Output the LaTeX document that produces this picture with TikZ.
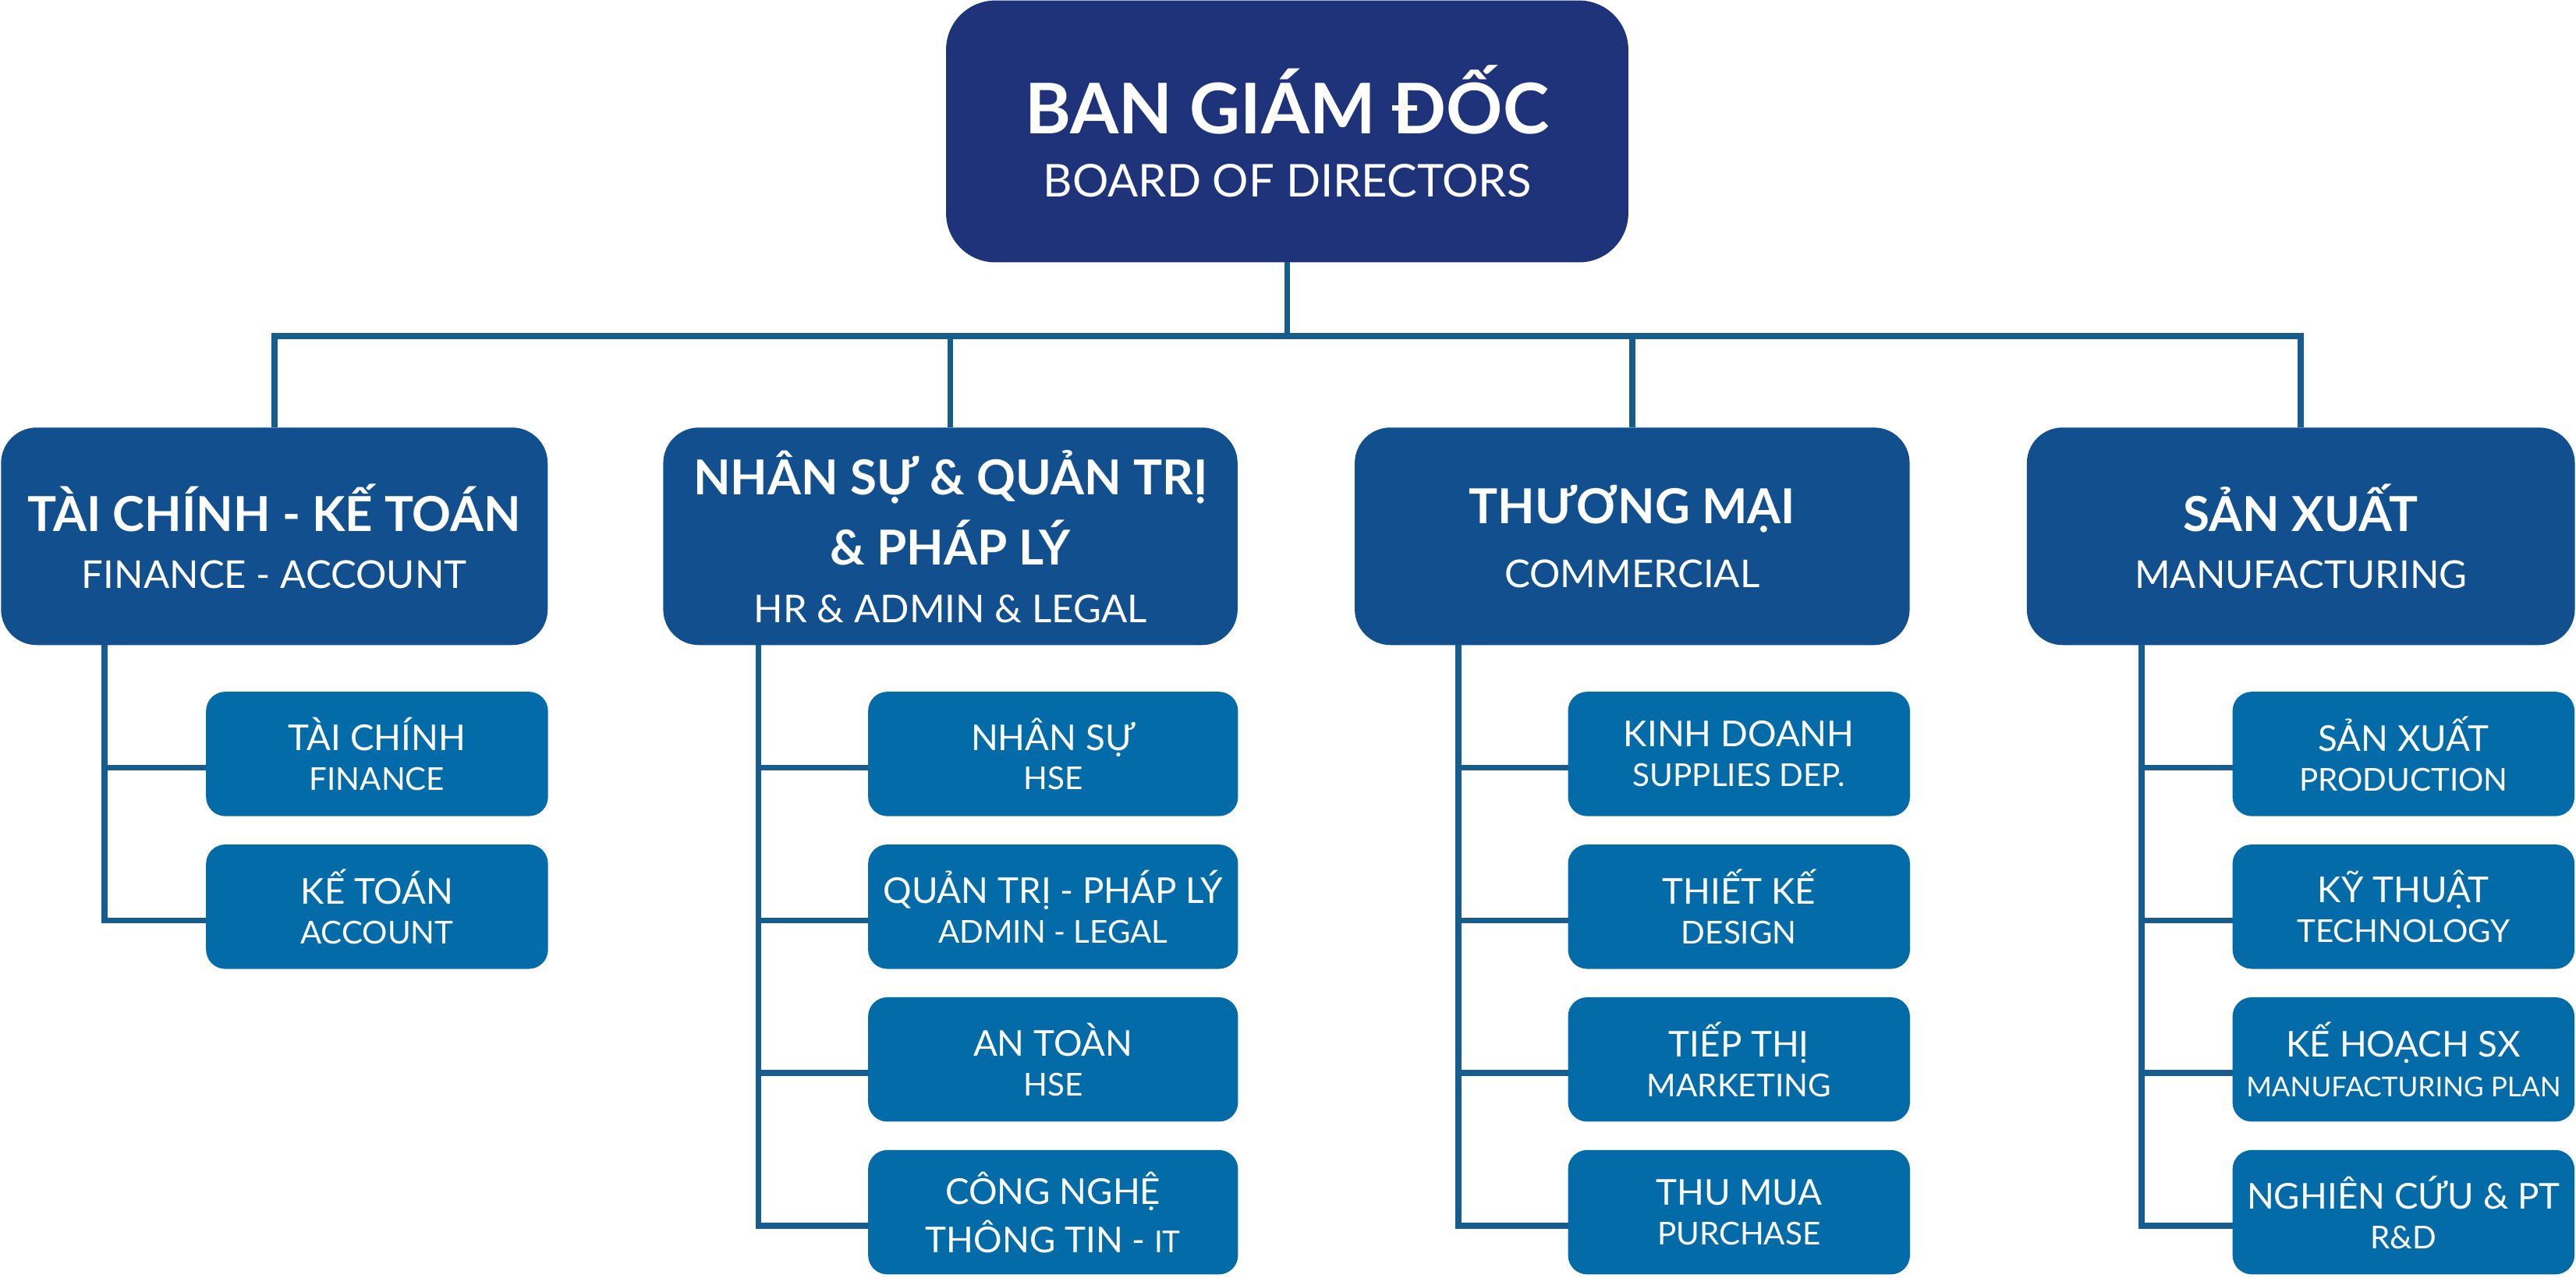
\documentclass[tikz,border=0pt]{standalone}
\usepackage{fontspec}
\setmainfont{Lato}
\usetikzlibrary{positioning}
\definecolor{bodblue}{RGB}{30,51,122}
\definecolor{deptblue}{RGB}{18,79,143}
\definecolor{unitblue}{RGB}{3,108,168}
\definecolor{lineblue}{RGB}{22,92,140}
\newcommand{\bodtext}[2]{\fontsize{25.5}{28}\selectfont\bfseries #1\\[10pt]\fontsize{16.5}{20}\selectfont\mdseries #2}
\newcommand{\depttext}[2]{\fontsize{17.6}{21}\selectfont\bfseries #1\\[9pt]\fontsize{14}{21}\selectfont\mdseries #2}
\newcommand{\unittext}[2]{\fontsize{13}{15}\selectfont #1\\[2.5pt]\fontsize{11.5}{14.3}\selectfont #2}
\tikzset{
  bodbox/.style={fill=bodblue, text=white, rounded corners=18pt, minimum width=249pt, minimum height=95.6pt, align=center, inner sep=0pt, outer sep=0pt},
  deptbox/.style={fill=deptblue, text=white, rounded corners=13pt, minimum height=79.4pt, align=center, inner sep=0pt, outer sep=0pt},
  unitbox/.style={fill=unitblue, text=white, rounded corners=7pt, minimum width=124.8pt, minimum height=45.4pt, align=center, inner sep=0pt, outer sep=0pt},
  conn/.style={draw=lineblue, line width=2.2pt},
}

\begin{document}
\begin{tikzpicture}[x=0.021065cm, y=-0.021065cm]
  \useasboundingbox (0,0) rectangle (1568,778);
  \node[bodbox] (bod) at (783.5,80) {\bodtext{BAN GIÁM ĐỐC}{BOARD OF DIRECTORS}};

  \node[deptbox, minimum width=199.5pt] (fin) at (167,326.5) {\depttext{TÀI CHÍNH - KẾ TOÁN}{FINANCE - ACCOUNT}};
  \node[deptbox, minimum width=209.6pt] (hr) at (578.5,326.5) {\depttext{NHÂN SỰ \& QUẢN TRỊ\\[5pt]\fontsize{17.6}{21}\selectfont\bfseries \& PHÁP LÝ}{HR \& ADMIN \& LEGAL}};
  \node[deptbox, minimum width=202.5pt] (tm) at (993.5,326.5) {\depttext{THƯƠNG MẠI}{COMMERCIAL}};
  \node[deptbox, minimum width=200pt] (sx) at (1400.5,326.5) {\depttext{SẢN XUẤT}{MANUFACTURING}};

  \node[unitbox] (fin1) at (229.5,459) {\unittext{TÀI CHÍNH}{FINANCE}};
  \node[unitbox] (fin2) at (229.5,552) {\unittext{KẾ TOÁN}{ACCOUNT}};

  \node[unitbox, minimum width=135pt] (hr1) at (641,459) {\unittext{NHÂN SỰ}{HSE}};
  \node[unitbox, minimum width=135pt] (hr2) at (641,552) {\unittext{QUẢN TRỊ - PHÁP LÝ}{ADMIN - LEGAL}};
  \node[unitbox, minimum width=135pt] (hr3) at (641,645) {\unittext{AN TOÀN}{HSE}};
  \node[unitbox, minimum width=135pt] (hr4) at (641,738) {\unittext{CÔNG NGHỆ}{\fontsize{13}{14.3}\selectfont THÔNG TIN - {\fontsize{11}{13}\selectfont IT}}};

  \node[unitbox] (tm1) at (1058.5,459) {\unittext{KINH DOANH}{SUPPLIES DEP.}};
  \node[unitbox] (tm2) at (1058.5,552) {\unittext{THIẾT KẾ}{DESIGN}};
  \node[unitbox] (tm3) at (1058.5,645) {\unittext{TIẾP THỊ}{MARKETING}};
  \node[unitbox] (tm4) at (1058.5,738) {\unittext{THU MUA}{PURCHASE}};

  \node[unitbox] (sx1) at (1463,459) {\unittext{SẢN XUẤT}{PRODUCTION}};
  \node[unitbox] (sx2) at (1463,552) {\unittext{KỸ THUẬT}{TECHNOLOGY}};
  \node[unitbox] (sx3) at (1463,645) {\unittext{KẾ HOẠCH SX}{\fontsize{10}{14.3}\selectfont MANUFACTURING PLAN}};
  \node[unitbox] (sx4) at (1463,738) {\unittext{NGHIÊN CỨU \& PT}{R\&D}};

  \draw[conn] (bod.south) -- ++(0,45) coordinate (bus);
  \draw[conn] (fin.north) |- (bus) -| (sx.north);
  \draw[conn] (hr.north) -- (hr.north |- bus);
  \draw[conn] (tm.north) -- (tm.north |- bus);

  \path (fin.south west) ++(63,0) coordinate (spfin);
  \path (hr.south west) ++(58,0) coordinate (sphr);
  \path (tm.south west) ++(63,0) coordinate (sptm);
  \path (sx.south west) ++(70,0) coordinate (spsx);
  \foreach \c in {fin1,fin2} \draw[conn] (spfin) |- ([yshift=-5pt]\c.west);
  \foreach \c in {hr1,hr2,hr3,hr4} \draw[conn] (sphr) |- ([yshift=-5pt]\c.west);
  \foreach \c in {tm1,tm2,tm3,tm4} \draw[conn] (sptm) |- ([yshift=-5pt]\c.west);
  \foreach \c in {sx1,sx2,sx3,sx4} \draw[conn] (spsx) |- ([yshift=-5pt]\c.west);
\end{tikzpicture}
\end{document}
